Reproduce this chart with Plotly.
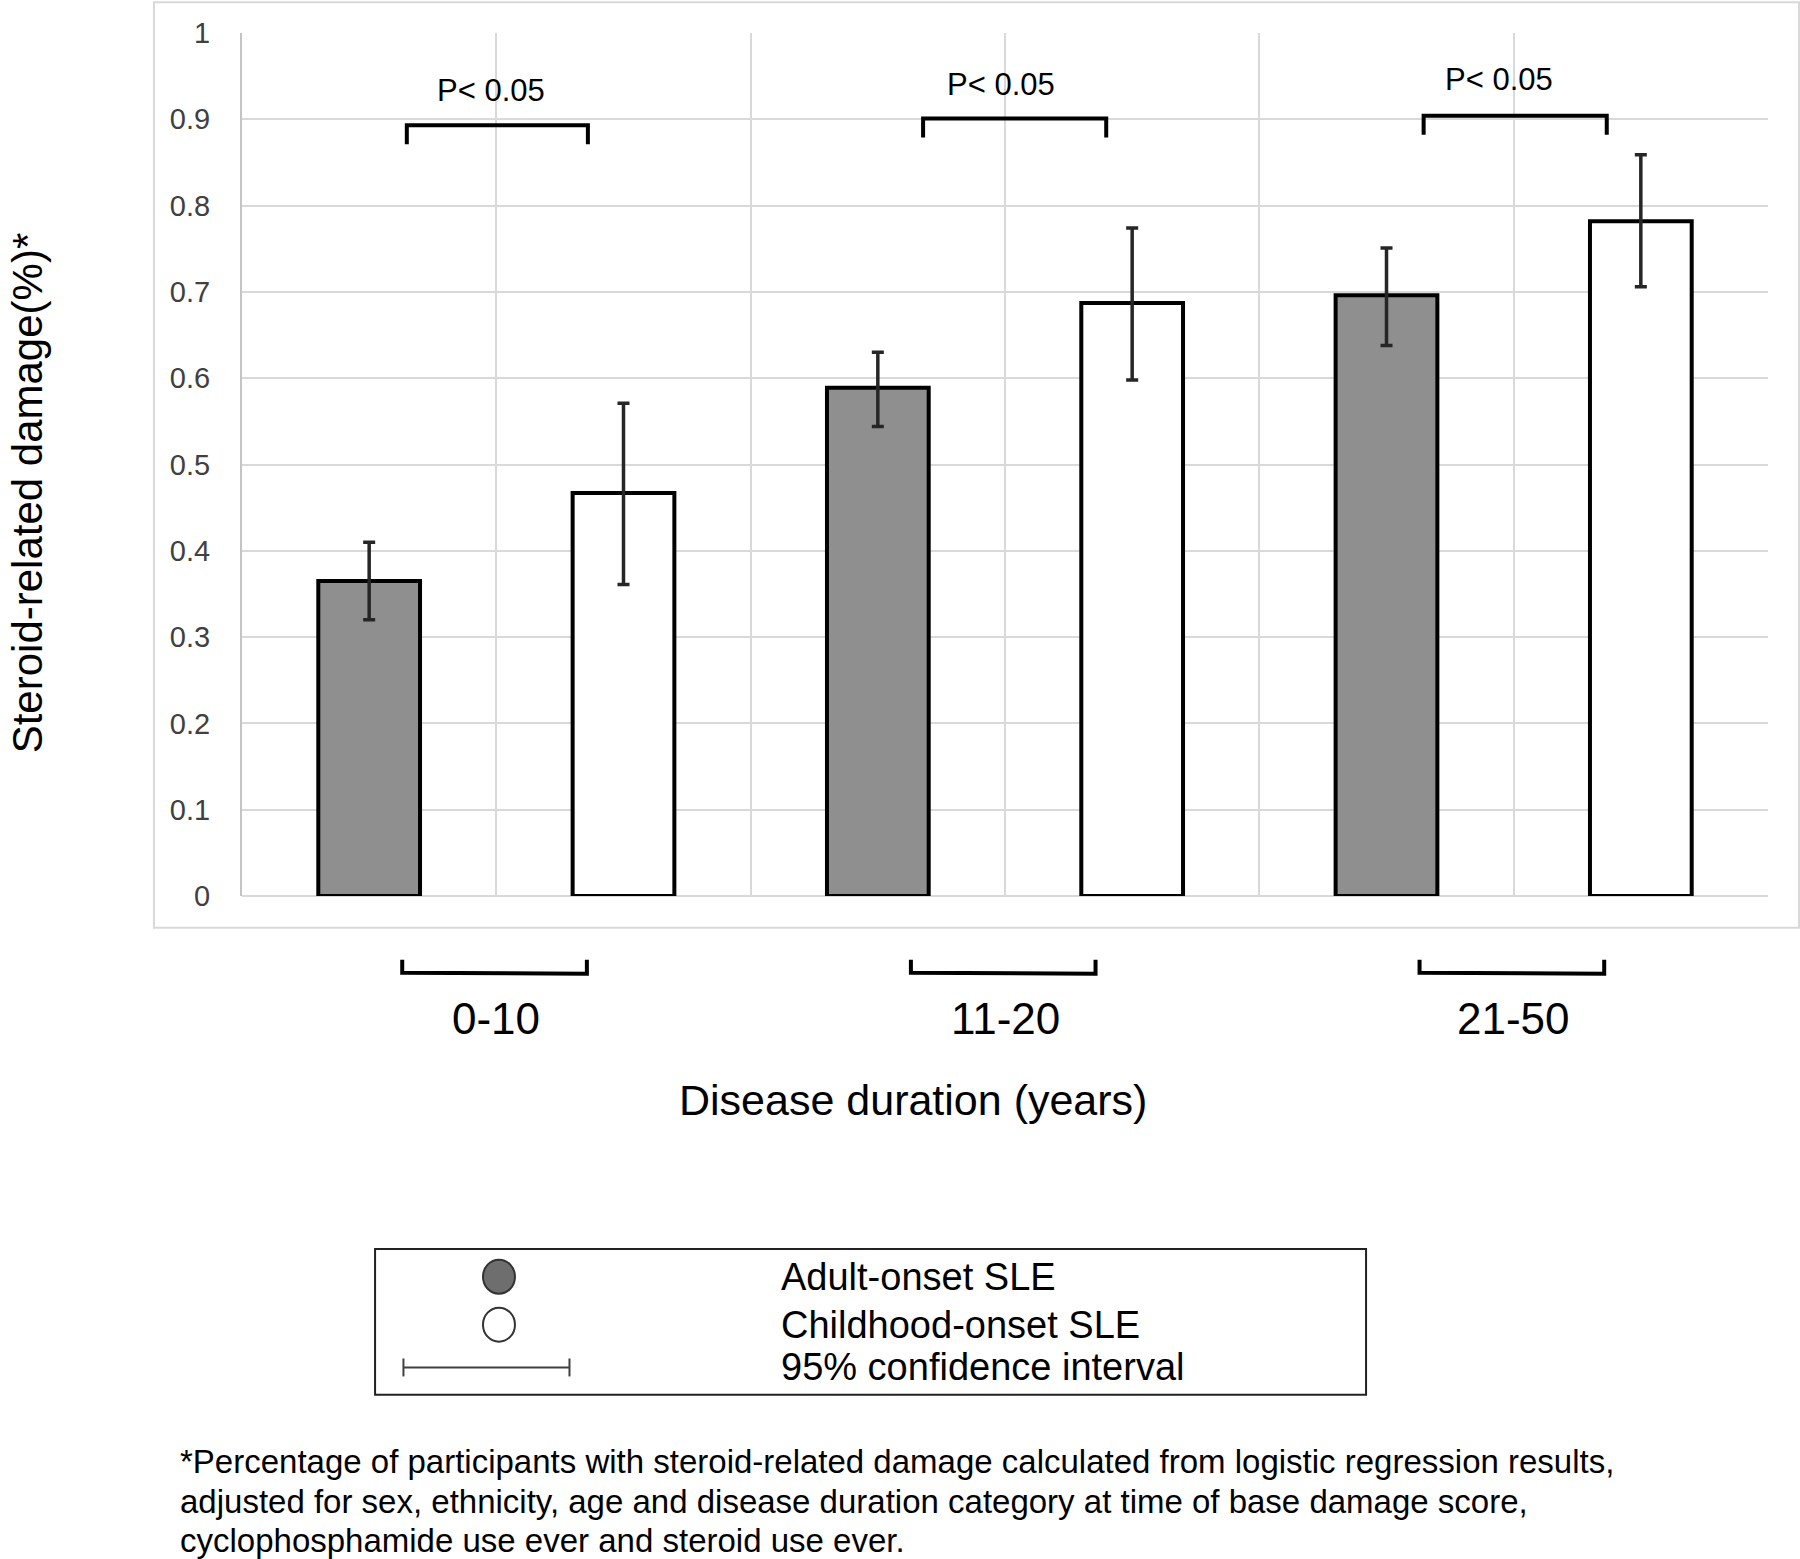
import plotly.graph_objects as go

# Data -------------------------------------------------------------------
categories = ["0-10", "11-20", "21-50"]
series_names = ["Adult-onset SLE", "Childhood-onset SLE"]
ci_label = "95% confidence interval"

adult = [0.365, 0.589, 0.696]
adult_lo = [0.320, 0.544, 0.638]
adult_hi = [0.410, 0.630, 0.751]

child = [0.467, 0.687, 0.782]
child_lo = [0.361, 0.598, 0.706]
child_hi = [0.571, 0.774, 0.859]

p_text = "P< 0.05"
p_bracket_y = [0.893, 0.901, 0.904]
p_text_y = [0.933, 0.940, 0.946]

y_title = "Steroid-related damage(%)*"
x_title = "Disease duration (years)"
footnote_lines = [
    "*Percentage of participants with steroid-related damage calculated from logistic regression results,",
    "adjusted for sex, ethnicity, age and disease duration category at time of base damage score,",
    "cyclophosphamide use ever and steroid use ever.",
]

# ----------------------------------------------------------------------
FONT = "Liberation Sans, Arial, sans-serif"
GRID = "#d9d9d9"
x_pos = list(range(len(categories)))

fig = go.Figure()
for name, vals, lo, hi, fill in [
    (series_names[0], adult, adult_lo, adult_hi, "#8f8f8f"),
    (series_names[1], child, child_lo, child_hi, "#ffffff"),
]:
    fig.add_trace(go.Bar(
        x=x_pos, y=vals, name=name, showlegend=False,
        marker=dict(color=fill, line=dict(color="black", width=4)),
        error_y=dict(
            type="data", symmetric=False,
            array=[h - v for h, v in zip(hi, vals)],
            arrayminus=[v - l for v, l in zip(vals, lo)],
            color="#262626", thickness=3.5, width=6,
        ),
    ))

shapes = []
annotations = []

# P-value brackets above each pair
p_left = [-0.176, -0.161, -0.177]
p_right = [0.180, 0.199, 0.183]
p_dx = [-0.010, -0.007, -0.029]
for i, c in enumerate(x_pos):
    y0 = p_bracket_y[i]
    x0, x1 = c + p_left[i], c + p_right[i]
    shapes.append(dict(type="path", xref="x", yref="y",
                       path=f"M {x0},{y0 - 0.022} L {x0},{y0} L {x1},{y0} L {x1},{y0 - 0.022}",
                       line=dict(color="black", width=4)))
    annotations.append(dict(x=c + p_dx[i], y=p_text_y[i], xref="x", yref="y", text=p_text,
                            showarrow=False, font=dict(size=31, color="black", family=FONT)))

# category brackets + labels below the plot
for i, c in enumerate(x_pos):
    x0, x1 = c - 0.185, c + 0.178
    shapes.append(dict(type="path", xref="x", yref="paper",
                       path=f"M {x0},-0.0738 L {x0},-0.0889 L {x1},-0.0900 L {x1},-0.0738",
                       line=dict(color="black", width=4)))
    annotations.append(dict(x=c, y=-0.142, xref="x", yref="paper", text=categories[i],
                            showarrow=False, yanchor="middle",
                            font=dict(size=44, color="black", family=FONT)))

# outer chart frame
shapes.append(dict(type="rect", xref="paper", yref="paper", x0=-0.0577, x1=1.0203,
                   y0=-0.0367, y1=1.0355, line=dict(color=GRID, width=2), layer="below"))

# custom legend box
shapes.append(dict(type="rect", xref="paper", yref="paper", x0=0.0872, x1=0.7366,
                   y0=-0.5779, y1=-0.409, line=dict(color="#222222", width=2)))
legend_y = [-0.4411, -0.4967, -0.5463]
for fill, ly in [("#6e6e6e", legend_y[0]), ("#ffffff", legend_y[1])]:
    shapes.append(dict(type="circle", xref="paper", yref="paper",
                       xsizemode="pixel", ysizemode="pixel", xanchor=0.1684, yanchor=ly,
                       x0=-16, x1=16, y0=-17, y1=17,
                       fillcolor=fill, line=dict(color="#333333", width=2)))
shapes.append(dict(type="line", xref="paper", yref="paper", x0=0.1058, x1=0.2146,
                   y0=legend_y[2], y1=legend_y[2], line=dict(color="#404040", width=2)))
for cx in (0.1058, 0.2146):
    shapes.append(dict(type="line", xref="paper", yref="paper", x0=cx, x1=cx,
                       y0=legend_y[2] - 0.0104, y1=legend_y[2] + 0.0104,
                       line=dict(color="#404040", width=2)))
for txt, ly in zip(series_names + [ci_label], legend_y):
    annotations.append(dict(x=0.3519, y=ly, xref="paper", yref="paper", text=txt,
                            showarrow=False, xanchor="left", yanchor="middle",
                            font=dict(size=38, color="black", family=FONT)))

# titles and footnote
annotations.append(dict(x=0.4395, y=-0.236, xref="paper", yref="paper", text=x_title,
                        showarrow=False, yanchor="middle",
                        font=dict(size=43, color="black", family=FONT)))
annotations.append(dict(x=-0.140, y=0.467, xref="paper", yref="paper", text=y_title,
                        showarrow=False, textangle=-90, xanchor="center", yanchor="middle",
                        font=dict(size=42, color="black", family=FONT)))
for txt, ly in zip(footnote_lines, [-0.6552, -0.7016, -0.7468]):
    annotations.append(dict(x=-0.0419, y=ly, xref="paper", yref="paper", text=txt,
                            showarrow=False, xanchor="left", yanchor="middle", align="left",
                            font=dict(size=33, color="black", family=FONT)))

fig.update_layout(
    width=1800, height=1559,
    margin=dict(l=242, r=32, t=33, b=663),
    paper_bgcolor="white", plot_bgcolor="white",
    barmode="group", bargap=0, bargroupgap=0.6,
    shapes=shapes, annotations=annotations,
    font=dict(family=FONT),
)
fig.update_xaxes(
    range=[-0.5, len(categories) - 0.5], tickmode="linear", tick0=-0.5, dtick=0.5,
    showticklabels=False, showgrid=True, gridcolor=GRID, gridwidth=2,
    zeroline=False, showline=False,
)
fig.update_yaxes(
    range=[0, 1], dtick=0.1, showgrid=True, gridcolor=GRID, gridwidth=2,
    zeroline=True, zerolinecolor=GRID, zerolinewidth=2,
    showline=True, linecolor="#c4c4c4", linewidth=2,
    ticks="outside", ticklen=24, tickcolor="rgba(0,0,0,0)",
    tickfont=dict(size=29, color="#404040", family=FONT),
)

fig.write_html("out.html", config={"displayModeBar": False},
               post_script="document.body.style.margin='0';")
